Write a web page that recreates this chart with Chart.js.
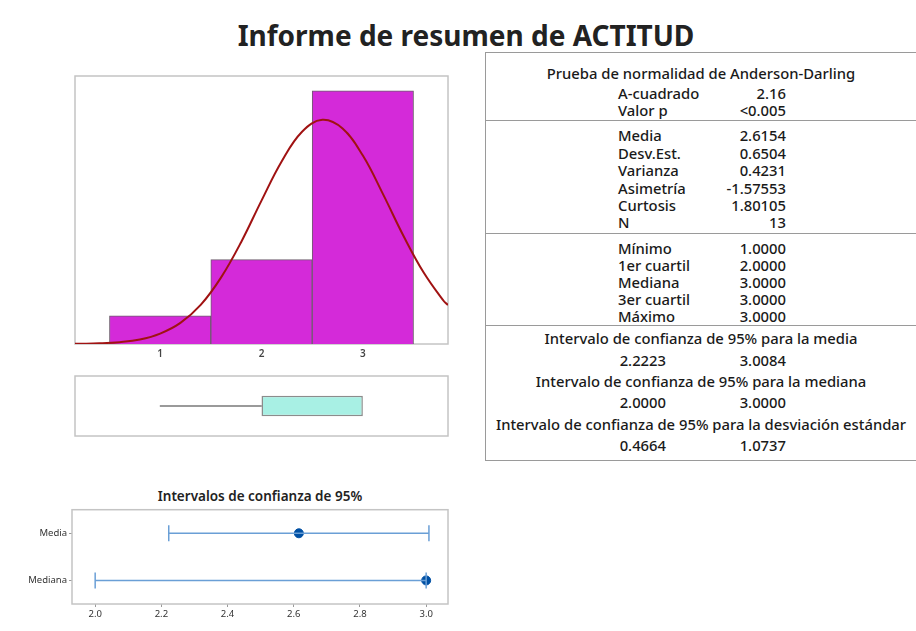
<!DOCTYPE html>
<html>
<head>
<meta charset="utf-8">
<script src="https://cdn.jsdelivr.net/npm/chart.js@4/dist/chart.umd.min.js"></script>
<style>
  body { margin: 0; background: #fff; width: 916px; height: 631px; position: relative; overflow: hidden;
         font-family: 'Noto Sans', 'Open Sans', sans-serif; color: #1a1a1a; }
  canvas { position: absolute; }
  #title { position: absolute; left: 0; width: 932px; top: 16px; text-align: center; font-size: 28px; font-weight: bold; color: #222; }
  #ciTitle { position: absolute; left: 72px; width: 376px; top: 487px; text-align: center; font-size: 13.5px; font-weight: 600; color: #222; }
  #stats { position: absolute; left: 485px; top: 52px; width: 440px; height: 407px; border-left: 1px solid #9a9a9a; border-top: 1px solid #9a9a9a; border-bottom: 1px solid #9a9a9a; }
  .sep { position: absolute; left: 0; right: 0; height: 0; border-top: 1px solid #9a9a9a; }
  .t { position: absolute; font-size: 14.8px; font-weight: 500; line-height: 18px; white-space: nowrap; }
  .c { left: 0; width: 430px; text-align: center; }
  .r { text-align: right; }
</style>
</head>
<body>
<div id="title">Informe de resumen de ACTITUD</div>
<canvas id="hist" width="384" height="290" style="left:70px;top:70px"></canvas>
<canvas id="box" width="384" height="72" style="left:70px;top:370px"></canvas>
<div id="ciTitle">Intervalos de confianza de 95%</div>
<canvas id="ci" width="434" height="118" style="left:20px;top:502px"></canvas>
<div id="stats"></div>

<script>
// histogram
const binMids = [1, 2, 3];
const binCounts = [1, 3, 9];
const histTicks = [1, 2, 3];
// fitted normal curve (counts)
const curveX = [0.16, 0.2, 0.4, 0.6, 0.8, 1.0, 1.2, 1.4, 1.6, 1.8, 2.0, 2.2, 2.4, 2.6, 2.8, 3.0, 3.2, 3.4, 3.6, 3.8, 3.84];
const curveY = [0.006, 0.008, 0.024, 0.066, 0.16, 0.37, 0.75, 1.39, 2.36, 3.63, 5.10, 6.50, 7.55, 7.97, 7.66, 6.70, 5.32, 3.85, 2.54, 1.52, 1.39];

// boxplot: min, q1, median, q3, max
const boxFive = [1, 2, 3, 3, 3];

// confidence intervals
const ciLabels = ['Media', 'Mediana'];
const ciLow = [2.2223, 2.0];
const ciHigh = [3.0084, 3.0];
const ciEst = [2.6154, 3.0];
const ciTicks = [2.0, 2.2, 2.4, 2.6, 2.8, 3.0];

// stats table
const adLabels = ['A-cuadrado', 'Valor p'];
const adValues = ['2.16', '<0.005'];
const momentLabels = ['Media', 'Desv.Est.', 'Varianza', 'Asimetría', 'Curtosis', 'N'];
const momentValues = ['2.6154', '0.6504', '0.4231', '-1.57553', '1.80105', '13'];
const quantLabels = ['Mínimo', '1er cuartil', 'Mediana', '3er cuartil', 'Máximo'];
const quantValues = ['1.0000', '2.0000', '3.0000', '3.0000', '3.0000'];
const ciTitles = ['Intervalo de confianza de 95% para la media',
                  'Intervalo de confianza de 95% para la mediana',
                  'Intervalo de confianza de 95% para la desviación estándar'];
const ciTabLow = ['2.2223', '2.0000', '0.4664'];
const ciTabHigh = ['3.0084', '3.0000', '1.0737'];

Chart.defaults.font.family = "'Noto Sans', 'Open Sans', sans-serif";
Chart.defaults.animation = false;

const framePlugin = {
    id: 'frame',
    beforeDatasetsDraw(chart) {
        const { ctx, chartArea: a } = chart;
        ctx.save();
        ctx.strokeStyle = '#c4c4c4';
        ctx.lineWidth = 1.5;
        ctx.strokeRect(a.left, a.top, a.right - a.left, a.bottom - a.top);
        ctx.restore();
    }
};

new Chart(document.getElementById('hist'), {
    type: 'bar',
    data: {
        datasets: [{
            type: 'line',
            data: curveX.map((x, i) => ({ x: x, y: curveY[i] })),
            borderColor: '#a01212',
            borderWidth: 2,
            pointRadius: 0,
            tension: 0.4
        }, {
            data: binMids.map((m, i) => ({ x: m, y: binCounts[i] })),
            backgroundColor: '#d42ad9',
            borderColor: '#6e5e6e',
            borderWidth: 1,
            barPercentage: 1,
            categoryPercentage: 1
        }]
    },
    options: {
        responsive: false,
        layout: { autoPadding: false, padding: { left: 5, right: 6, top: 6 } },
        plugins: { legend: { display: false }, tooltip: { enabled: false } },
        scales: {
            x: {
                type: 'linear', min: 0.16, max: 3.84, offset: false,
                afterBuildTicks: s => { s.ticks = histTicks.map(v => ({ value: v })); },
                afterFit: s => { s.height = 16; },
                grid: { display: false, drawTicks: false, offset: false },
                border: { display: false },
                ticks: { padding: 4, color: '#444', font: { size: 10, weight: '600' } }
            },
            y: { display: false, min: 0, max: 9.53 }
        }
    },
    plugins: [framePlugin]
});

new Chart(document.getElementById('box'), {
    type: 'bar',
    data: {
        labels: ['ACTITUD'],
        datasets: [{
            data: [[boxFive[0], boxFive[1]]],
            backgroundColor: '#9a9a9a',
            barThickness: 1.5,
            grouped: false
        }, {
            data: [[boxFive[1], boxFive[3]]],
            backgroundColor: '#a8f0e4',
            borderColor: '#8c8c8c',
            borderWidth: 1.5,
            borderSkipped: false,
            barPercentage: 0.34,
            categoryPercentage: 1,
            grouped: false
        }]
    },
    options: {
        responsive: false,
        indexAxis: 'y',
        layout: { autoPadding: false, padding: { left: 5, right: 6, top: 6, bottom: 6 } },
        plugins: { legend: { display: false }, tooltip: { enabled: false } },
        scales: {
            x: { type: 'linear', min: 0.16, max: 3.84, display: false },
            y: { display: false }
        }
    },
    plugins: [framePlugin]
});

const ciBlue = '#6a9fd6';
const ciDatasets = ciLabels.map((lab, i) => ({
    data: [{ x: ciLow[i], y: lab }, { x: ciHigh[i], y: lab }],
    showLine: true,
    borderColor: ciBlue,
    borderWidth: 1.5,
    pointRadius: 0
}));
ciDatasets.push({
    data: ciLabels.flatMap((lab, i) => [{ x: ciLow[i], y: lab }, { x: ciHigh[i], y: lab }]),
    pointStyle: 'line',
    rotation: 90,
    pointRadius: 8,
    borderColor: ciBlue,
    borderWidth: 1.5
});
ciDatasets.push({
    data: ciLabels.map((lab, i) => ({ x: ciEst[i], y: lab })),
    pointRadius: 4.5,
    backgroundColor: '#0050a4',
    borderColor: '#0050a4'
});

new Chart(document.getElementById('ci'), {
    type: 'scatter',
    data: { datasets: ciDatasets },
    options: {
        responsive: false,
        layout: { autoPadding: false, padding: { top: 4, right: 6 } },
        plugins: { legend: { display: false }, tooltip: { enabled: false } },
        scales: {
            x: {
                type: 'linear', min: 1.93, max: 3.066,
                afterBuildTicks: s => { s.ticks = ciTicks.map(v => ({ value: v })); },
                afterFit: s => { s.height = 16; },
                grid: { drawOnChartArea: false, tickLength: 3, color: '#9a9a9a' },
                border: { display: false },
                ticks: { padding: 2, color: '#333', font: { size: 9.5 }, callback: v => v.toFixed(1) }
            },
            y: {
                type: 'category', labels: ciLabels, offset: true,
                afterFit: s => { s.width = 52; },
                grid: { drawOnChartArea: false, tickLength: 3, color: '#9a9a9a' },
                border: { display: false },
                ticks: { padding: 2, color: '#333', font: { size: 9.5 } }
            }
        }
    },
    plugins: [framePlugin]
});

// stats table text
const stats = document.getElementById('stats');
function addText(cls, text, top, left, width) {
    const d = document.createElement('div');
    d.className = 't ' + cls;
    d.textContent = text;
    d.style.top = (top - 52 - 10.5) + 'px';
    if (left !== undefined) d.style.left = left + 'px';
    if (width !== undefined) d.style.width = width + 'px';
    stats.appendChild(d);
}
function addRow(label, value, y) {
    addText('', label, y, 132);
    addText('r', value, y, 200, 100);
}
function addSep(y) {
    const s = document.createElement('div');
    s.className = 'sep';
    s.style.top = (y - 52) + 'px';
    stats.appendChild(s);
}

addText('c', 'Prueba de normalidad de Anderson-Darling', 73);
[93, 110].forEach((y, i) => addRow(adLabels[i], adValues[i], y));
addSep(119);
[135, 153, 170, 188, 205, 222].forEach((y, i) => addRow(momentLabels[i], momentValues[i], y));
addSep(232);
[248, 265, 282, 299, 316].forEach((y, i) => addRow(quantLabels[i], quantValues[i], y));
addSep(324);
[[338, 360], [381, 402], [424, 445]].forEach((p, i) => {
    addText('c', ciTitles[i], p[0]);
    addText('r', ciTabLow[i], p[1], 80, 100);
    addText('r', ciTabHigh[i], p[1], 200, 100);
});
</script>
</body>
</html>
